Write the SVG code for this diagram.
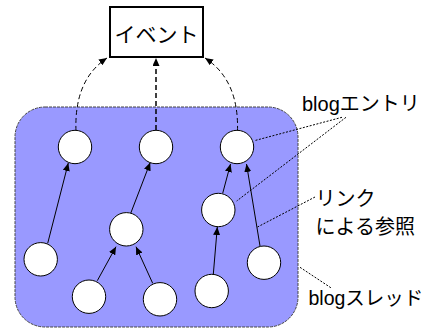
<svg xmlns="http://www.w3.org/2000/svg" width="425" height="329" viewBox="0 0 425 329">
<style>
.node{fill:#fff;stroke:#000;stroke-width:1}
.link{fill:none;stroke:#000;stroke-width:1}
.ev{fill:none;stroke:#000;stroke-width:1;stroke-dasharray:5,3}
.lead{fill:none;stroke:#000;stroke-width:1;stroke-dasharray:2,1.5}
.lbl{font-family:"Liberation Sans","Noto Sans CJK JP",sans-serif;font-size:20px;fill:#000}
</style>
<defs>
<marker id="ah" viewBox="0 0 8 7" refX="8" refY="3.5" markerWidth="8" markerHeight="7" markerUnits="userSpaceOnUse" orient="auto">
<path d="M0,0 L8,3.5 L0,7 z" fill="#000"/>
</marker>
</defs>
<g id="thread">
<rect x="15" y="107" width="283" height="220" rx="30" ry="30" fill="#9999ff" stroke="#444" stroke-width="1" stroke-dasharray="3,1"/>
</g>
<g id="event">
<rect x="110" y="7" width="93" height="50" fill="#fff" stroke="#000" stroke-width="2"/>
<text x="156.5" y="42" text-anchor="middle" class="lbl" style="font-size:21px">イベント</text>
</g>
<g id="connectors">
<path class="ev" d="M76,131 Q74,80 107,58" marker-end="url(#ah)"/>
<path class="ev" d="M156,130 L156,58" style="stroke-width:1.5" marker-end="url(#ah)"/>
<path class="ev" d="M237.5,131 Q239,80 205,58" marker-end="url(#ah)"/>
<line class="link" x1="47.7" y1="243.3" x2="68.3" y2="163" marker-end="url(#ah)"/>
<line class="link" x1="130.7" y1="213.3" x2="150.2" y2="162.6" marker-end="url(#ah)"/>
<line class="link" x1="97.3" y1="280.7" x2="116" y2="246.7" marker-end="url(#ah)"/>
<line class="link" x1="152.7" y1="283.3" x2="136" y2="246.7" marker-end="url(#ah)"/>
<line class="link" x1="222.7" y1="193.3" x2="230.5" y2="164" marker-end="url(#ah)"/>
<line class="link" x1="213.3" y1="274.3" x2="217.3" y2="227" marker-end="url(#ah)"/>
<line class="link" x1="260" y1="246" x2="246.5" y2="164" marker-end="url(#ah)"/>
<line class="lead" x1="342" y1="117.3" x2="254.3" y2="140.7"/>
<line class="lead" x1="346" y1="117.3" x2="236.7" y2="201"/>
<line class="lead" x1="315" y1="197" x2="257.5" y2="227"/>
<line class="lead" x1="300" y1="267.3" x2="331.7" y2="288.3"/>
</g>
<g id="n1"><circle class="node" cx="75" cy="147" r="16.7"/></g>
<g id="n2"><circle class="node" cx="156" cy="147" r="16.7"/></g>
<g id="n3"><circle class="node" cx="237" cy="147" r="16.7"/></g>
<g id="n4"><circle class="node" cx="40.7" cy="259.3" r="16.7"/></g>
<g id="n5"><circle class="node" cx="126.3" cy="229.3" r="16.7"/></g>
<g id="n6"><circle class="node" cx="89" cy="296.7" r="16.7"/></g>
<g id="n7"><circle class="node" cx="160" cy="299.3" r="16.7"/></g>
<g id="n8"><circle class="node" cx="218.3" cy="210" r="16.7"/></g>
<g id="n9"><circle class="node" cx="211.7" cy="291" r="16.7"/></g>
<g id="n10"><circle class="node" cx="264" cy="262.7" r="16.7"/></g>
<g id="labels">
<text x="302" y="110.7" class="lbl">blogエントリ</text>
<text x="315.5" y="205.5" class="lbl">リンク</text>
<text x="315.5" y="234" class="lbl">による参照</text>
<text x="308.5" y="305" class="lbl" style="font-size:19.5px">blogスレッド</text>
</g>
</svg>
